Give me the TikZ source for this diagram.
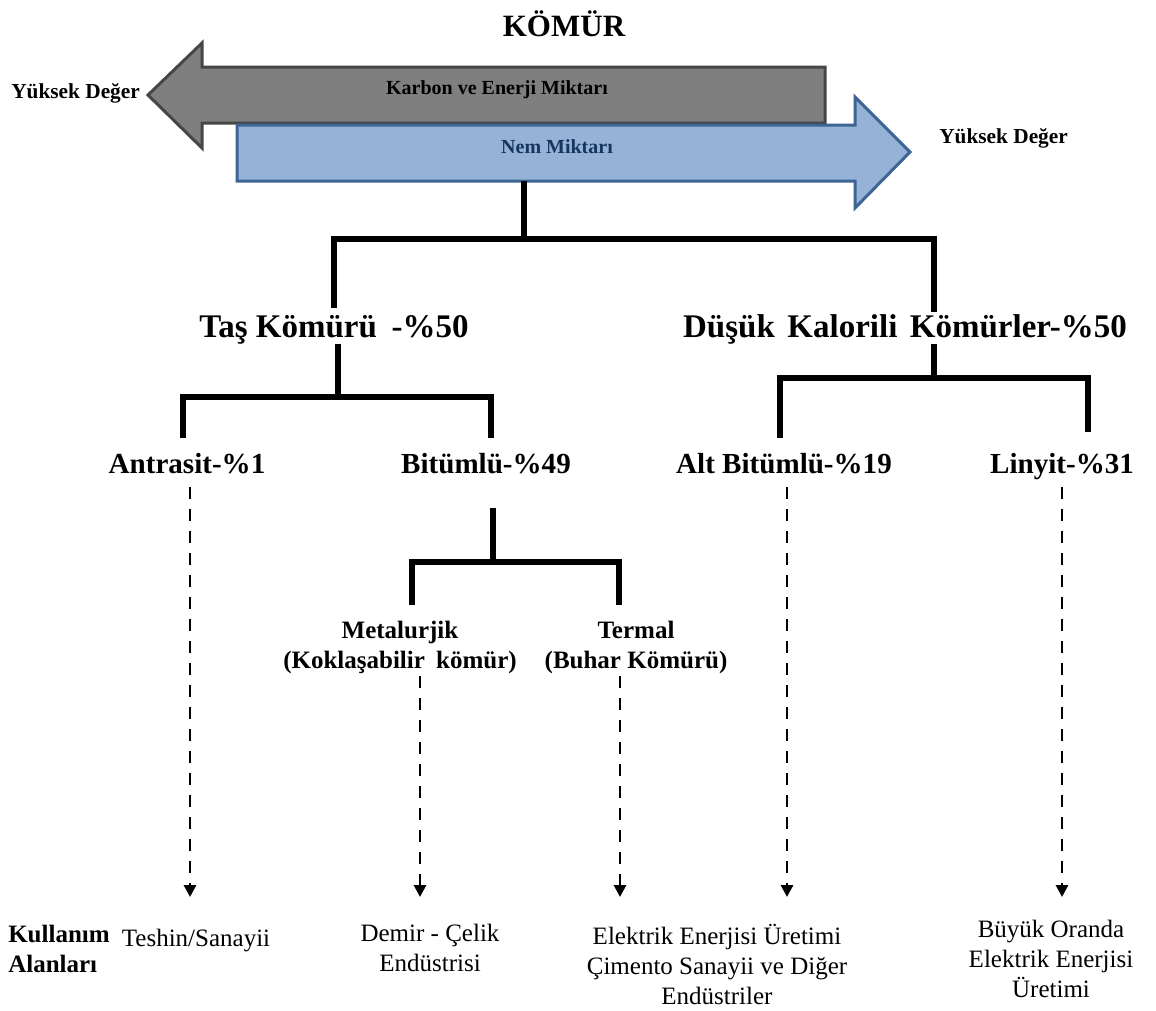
\documentclass[tikz,border=0pt]{standalone}
\usepackage{fontspec}
\setmainfont{Liberation Serif}
\usetikzlibrary{calc,arrows.meta}

\definecolor{grayfill}{RGB}{127,127,127}
\definecolor{grayedge}{RGB}{70,70,70}
\definecolor{bluefill}{RGB}{149,179,215}
\definecolor{blueedge}{RGB}{62,100,150}
\definecolor{navytext}{RGB}{23,54,93}

\begin{document}
\begin{tikzpicture}[x=0.75pt,y=-0.75pt,
  titletext/.style={font=\fontsize{23.25pt}{28pt}\selectfont\bfseries, inner sep=0},
  arrowtext/.style={font=\fontsize{15pt}{18pt}\selectfont\bfseries, inner sep=0},
  sidetext/.style={font=\fontsize{16pt}{19pt}\selectfont\bfseries, inner sep=0},
  lvlA/.style={font=\fontsize{24.75pt}{30pt}\selectfont\bfseries, inner sep=0,
    text height=21.75pt, text depth=5.25pt},
  lvlB/.style={font=\fontsize{21.8pt}{26pt}\selectfont\bfseries, inner sep=0,
    text height=26.25pt, text depth=10.5pt},
  lvlC/.style={font=\fontsize{18.75pt}{22.5pt}\selectfont\bfseries, inner sep=0, align=center},
  usetext/.style={font=\fontsize{18.75pt}{22.5pt}\selectfont, inner sep=0, align=center},
  bigarrow/.style={line width=2.25pt, line join=miter},
  tree/.style={line width=3.8pt, line join=miter},
  uselink/.style={line width=2.2pt, dash pattern=on 9pt off 7.5pt,
    -{Triangle[width=9pt,length=9pt]}}]

\useasboundingbox (0,0) rectangle (1156,1010);

% title
\node[titletext] (komur) at (564,24) {KÖMÜR};

% carbon / energy arrow (pointing left)
\filldraw[bigarrow, fill=grayfill, draw=grayedge]
  (825,67) -- (202,67) -- (202,43) -- (148,95) -- (202,148) -- (202,123) -- (825,123) -- cycle;
% moisture arrow (pointing right)
\filldraw[bigarrow, fill=bluefill, draw=blueedge]
  (237,125) -- (855,125) -- (855,97) -- (910,152) -- (855,208) -- (855,181) -- (237,181) -- cycle;

\node[arrowtext] (karbon) at (497,90) {Karbon ve Enerji Miktarı};
\node[arrowtext, text=navytext] (nem) at (557,147) {Nem Miktarı};
\node[sidetext, anchor=west] (ydleft) at (11,93) {Yüksek Değer};
\node[sidetext, anchor=west] (ydright) at (939,138) {Yüksek Değer};

% coal classes
\node[lvlA, anchor=base] (tas) at (334,337) {Taş Kömürü\hspace{0.45em}-\%50};
\node[lvlA, anchor=base] (dus) at (905,337) {Düşük\hspace{0.38em}Kalorili\hspace{0.38em}Kömürler-\%50};

\node[lvlB, anchor=base] (ant) at (187,473) {Antrasit-\%1};
\node[lvlB, anchor=base] (bit) at (486,473) {Bitümlü-\%49};
\node[lvlB, anchor=base] (alt) at (784,473) {Alt Bitümlü-\%19};
\node[lvlB, anchor=base] (lin) at (1062,473) {Linyit-\%31};

\node[lvlC, anchor=north] (met) at (400,621) {Metalurjik\\(Koklaşabilir\hspace{0.45em}kömür)};
\node[lvlC, anchor=north] (term) at (636,621) {Termal\\(Buhar Kömürü)};

% usage areas
\node[usetext, font=\fontsize{18.75pt}{22.5pt}\selectfont\bfseries, align=left, anchor=north west]
  (kul) at (8,925) {Kullanım\\Alanları};
\node[usetext, anchor=north] (teshin) at (196,929) {Teshin/Sanayii};
\node[usetext, anchor=north] (demir) at (430,924) {Demir - Çelik\\Endüstrisi};
\node[usetext, anchor=north] (elek) at (717,924) {Elektrik Enerjisi Üretimi\\Çimento Sanayii ve Diğer\\Endüstriler};
\node[usetext, anchor=north] (buyuk) at (1051,920) {Büyük Oranda\\Elektrik Enerjisi\\Üretimi};

% tree connectors
\coordinate (nembottom) at (524,181);
\coordinate (j0) at (524,239);
\draw[tree] (nembottom) -- (j0);
\draw[tree] (tas.north) |- (j0) -| ($(dus.north)+(29,4)$);

\coordinate (j1) at (338,397);
\draw[tree] ($(tas.south)+(4,0)$) -- (j1);
\draw[tree] ($(ant.north)+(-4,0)$) |- (j1) -| ($(bit.north)+(5,0)$);

\coordinate (j2) at (934,378);
\draw[tree] ($(dus.south)+(29,0)$) -- (j2);
\draw[tree] ($(alt.north)+(-4,0)$) |- (j2) -| ($(lin.north)+(26,-6)$);

\coordinate (j3) at (493,562);
\draw[tree] ($(bit.south)+(7,21)$) -- (j3);
\draw[tree] ($(met.north)+(12,-16)$) |- (j3) -| ($(term.north)+(-17,-16)$);

% usage links
\coordinate (usebase) at (0,897);
\coordinate (antfoot) at ($(ant.south)+(3,0)$);
\coordinate (metfoot) at ($(met.south)+(20,2)$);
\coordinate (termfoot) at ($(term.south)+(-16,2)$);
\coordinate (altfoot) at ($(alt.south)+(3,0)$);
\draw[uselink] (antfoot) -- (antfoot |- usebase);
\draw[uselink] (metfoot) -- (metfoot |- usebase);
\draw[uselink] (termfoot) -- (termfoot |- usebase);
\draw[uselink] (altfoot) -- (altfoot |- usebase);
\draw[uselink] (lin.south) -- (lin.south |- usebase);

\end{tikzpicture}
\end{document}
